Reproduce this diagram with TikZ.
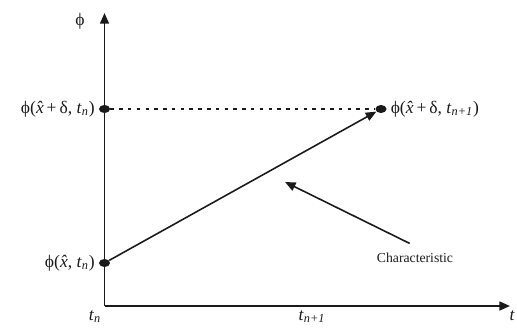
\documentclass[tikz,border=0pt]{standalone}
\usepackage{fontspec}
\setmainfont{Liberation Serif}
\usetikzlibrary{arrows.meta,shapes.geometric}
\definecolor{plotink}{HTML}{1A1A1A}

\newcommand{\xhat}{\textit{\^{x}\nocorr}}
\newcommand{\tsub}[1]{\textit{t}\textsubscript{\textit{#1}}}

\begin{document}
\begin{tikzpicture}[
  x=0.02cm, y=0.02cm,
  every node/.style={font=\fontsize{10}{11}\selectfont, plotink},
  axis/.style={plotink, line width=1.1pt, -{Triangle[length=6pt, width=5pt]}},
  charline/.style={plotink, line width=0.9pt, -{Triangle[length=6pt, width=5pt]}},
  level/.style={plotink, line width=0.6pt, dash pattern=on 2pt off 3pt},
  dot/.style={ellipse, fill=plotink, inner sep=0pt, minimum width=6.3pt, minimum height=4.6pt}
]
\useasboundingbox (0,0) rectangle (517,329);

%% ==== axes ==========================================================
\coordinate (o)    at (104.5,23);
\coordinate (ytop) at (104.5,316);
\coordinate (xend) at (510,23);

\draw[axis] (o) -- (ytop);
\draw[axis] (o) -- (xend);

\node (ylab) at (80,308) {ϕ};
\node[anchor=base] (tn)  at (95,9)  {\tsub{n}};
\node[anchor=base] (tn1) at (312,9) {\tsub{n+1}};
\node[anchor=base east, inner sep=1pt] (tlab) at (517,9) {\textit{t}};

%% ==== points ========================================================
\node[dot] (p0) at (104.5,66)  {};
\node[dot] (p1) at (104.5,220) {};
\node[dot] (p2) at (381,220)   {};

\node[anchor=east, inner sep=2pt] (l0) at (p0.west)
  {ϕ(\xhat, \tsub{n})};
\node[anchor=east, inner sep=2pt] (l1) at (p1.west)
  {ϕ(\xhat\,+\,δ, \tsub{n})};
\node[anchor=west, inner sep=2pt] (l2) at (p2.east)
  {ϕ(\xhat\,+\,δ, \tsub{n+1})};

\draw[level] (p1) -- (p2);
\draw[charline] (p0) -- (p2);

%% ==== characteristic label ==========================================
\node[font=\fontsize{7.8}{9}\selectfont] (chr) at (415,71) {Characteristic};
\coordinate (chrtip) at (285,147);
\draw[charline] ([xshift=-3pt,yshift=2pt]chr.north) -- (chrtip);

\end{tikzpicture}
\end{document}
